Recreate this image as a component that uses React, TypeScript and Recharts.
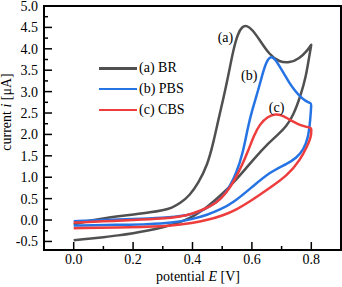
import { LineChart, Line, XAxis, YAxis, Legend, ReferenceArea, ReferenceDot } from 'recharts'

// cyclic voltammograms, potential E [V] vs current i [µA]
const brCurve = [
    { E: 0.0, i: -0.1 }, { E: 0.05, i: -0.02 }, { E: 0.1, i: 0.04 }, { E: 0.15, i: 0.09 },
    { E: 0.2, i: 0.13 }, { E: 0.26, i: 0.18 }, { E: 0.3, i: 0.23 }, { E: 0.33, i: 0.28 },
    { E: 0.36, i: 0.4 }, { E: 0.39, i: 0.57 }, { E: 0.42, i: 0.87 }, { E: 0.45, i: 1.28 },
    { E: 0.47, i: 1.8 }, { E: 0.487, i: 2.34 }, { E: 0.503, i: 2.81 }, { E: 0.52, i: 3.35 },
    { E: 0.537, i: 3.97 }, { E: 0.553, i: 4.36 }, { E: 0.567, i: 4.52 }, { E: 0.582, i: 4.55 },
    { E: 0.6, i: 4.46 }, { E: 0.626, i: 4.21 }, { E: 0.659, i: 3.86 }, { E: 0.693, i: 3.69 },
    { E: 0.726, i: 3.67 }, { E: 0.76, i: 3.77 }, { E: 0.788, i: 3.97 }, { E: 0.8, i: 4.1 },
    { E: 0.8, i: 4.1 }, { E: 0.793, i: 3.82 }, { E: 0.782, i: 3.35 }, { E: 0.765, i: 2.93 },
    { E: 0.74, i: 2.45 }, { E: 0.715, i: 2.18 }, { E: 0.69, i: 2.01 }, { E: 0.659, i: 1.82 },
    { E: 0.604, i: 1.41 }, { E: 0.548, i: 0.94 }, { E: 0.492, i: 0.55 }, { E: 0.448, i: 0.3 },
    { E: 0.4, i: 0.06 }, { E: 0.35, i: -0.07 }, { E: 0.3, i: -0.17 }, { E: 0.25, i: -0.25 },
    { E: 0.2, i: -0.31 }, { E: 0.15, i: -0.36 }, { E: 0.1, i: -0.4 }, { E: 0.05, i: -0.44 },
    { E: 0.0, i: -0.47 }, { E: 0.0, i: -0.47 },
]

const pbsCurve = [
    { E: 0.0, i: -0.03 }, { E: 0.1, i: 0.0 }, { E: 0.2, i: 0.02 }, { E: 0.3, i: 0.05 },
    { E: 0.38, i: 0.1 }, { E: 0.42, i: 0.18 }, { E: 0.448, i: 0.28 }, { E: 0.47, i: 0.37 },
    { E: 0.492, i: 0.48 }, { E: 0.51, i: 0.62 }, { E: 0.526, i: 0.79 }, { E: 0.548, i: 1.1 },
    { E: 0.57, i: 1.57 }, { E: 0.587, i: 2.19 }, { E: 0.602, i: 2.6 }, { E: 0.62, i: 3.0 },
    { E: 0.637, i: 3.45 }, { E: 0.65, i: 3.72 }, { E: 0.665, i: 3.84 }, { E: 0.68, i: 3.74 },
    { E: 0.693, i: 3.59 }, { E: 0.71, i: 3.4 }, { E: 0.726, i: 3.2 }, { E: 0.745, i: 3.02 },
    { E: 0.76, i: 2.9 }, { E: 0.78, i: 2.78 }, { E: 0.8, i: 2.72 }, { E: 0.8, i: 2.72 },
    { E: 0.797, i: 2.35 }, { E: 0.789, i: 1.9 }, { E: 0.774, i: 1.65 }, { E: 0.75, i: 1.45 },
    { E: 0.72, i: 1.32 }, { E: 0.66, i: 1.12 }, { E: 0.604, i: 0.79 }, { E: 0.537, i: 0.4 },
    { E: 0.492, i: 0.24 }, { E: 0.45, i: 0.12 }, { E: 0.4, i: 0.02 }, { E: 0.33, i: -0.07 },
    { E: 0.25, i: -0.1 }, { E: 0.15, i: -0.11 }, { E: 0.0, i: -0.13 }, { E: 0.0, i: -0.13 },
]

const cbsCurve = [
    { E: 0.0, i: -0.06 }, { E: 0.1, i: -0.03 }, { E: 0.2, i: 0.0 }, { E: 0.3, i: 0.03 },
    { E: 0.36, i: 0.08 }, { E: 0.4, i: 0.15 }, { E: 0.436, i: 0.24 }, { E: 0.481, i: 0.4 },
    { E: 0.514, i: 0.63 }, { E: 0.542, i: 0.94 }, { E: 0.565, i: 1.25 }, { E: 0.59, i: 1.66 },
    { E: 0.606, i: 1.96 }, { E: 0.626, i: 2.24 }, { E: 0.654, i: 2.42 }, { E: 0.68, i: 2.48 },
    { E: 0.7, i: 2.45 }, { E: 0.726, i: 2.35 }, { E: 0.765, i: 2.2 }, { E: 0.8, i: 2.15 },
    { E: 0.8, i: 2.15 }, { E: 0.8, i: 1.95 }, { E: 0.786, i: 1.72 }, { E: 0.763, i: 1.41 },
    { E: 0.72, i: 1.04 }, { E: 0.66, i: 0.75 }, { E: 0.604, i: 0.48 }, { E: 0.548, i: 0.24 },
    { E: 0.5, i: 0.1 }, { E: 0.45, i: 0.0 }, { E: 0.4, i: -0.07 }, { E: 0.33, i: -0.14 },
    { E: 0.2, i: -0.17 }, { E: 0.0, i: -0.19 }, { E: 0.0, i: -0.19 },
]

const seriesNames = ['(a) BR', '(b) PBS', '(c) CBS']
const seriesColors = ['#505050', '#2673e4', '#ee3d3d']
const curveTags = [
    { tag: '(a)', E: 0.511, i: 4.28 },
    { tag: '(b)', E: 0.591, i: 3.39 },
    { tag: '(c)', E: 0.683, i: 2.65 },
]

const xMajorTicks = [0, 0.2, 0.4, 0.6, 0.8]
const xMinorTicks = [0.1, 0.3, 0.5, 0.7]
const yMajorTicks = [-0.5, 0, 0.5, 1, 1.5, 2, 2.5, 3, 3.5, 4, 4.5, 5]
const yMinorTicks = [-0.25, 0.25, 0.75, 1.25, 1.75, 2.25, 2.75, 3.25, 3.75, 4.25, 4.75]

const FONT = '"Liberation Serif", "Times New Roman", serif'

function isMajor(list: number[], v: number) {
    return list.some((t) => Math.abs(t - v) < 1e-6)
}

function XTick({ x, y, payload }: any) {
    const major = isMajor(xMajorTicks, payload.value)
    return (
        <g>
            <line x1={x} x2={x} y1={y} y2={y - (major ? 8 : 4)} stroke="#000" strokeWidth={1.5} />
            {major && (
                <text x={x} y={y + 14} textAnchor="middle" fontFamily={FONT} fontSize={14} fill="#000">
                    {payload.value.toFixed(1)}
                </text>
            )}
        </g>
    )
}

function YTick({ x, y, payload }: any) {
    const major = isMajor(yMajorTicks, payload.value)
    return (
        <g>
            <line x1={x} x2={x + (major ? 8 : 4)} y1={y} y2={y} stroke="#000" strokeWidth={1.5} />
            {major && (
                <text x={x - 6} y={y + 5} textAnchor="end" fontFamily={FONT} fontSize={14} fill="#000">
                    {payload.value.toFixed(1)}
                </text>
            )}
        </g>
    )
}

function LegendBox() {
    return (
        <div style={{ fontFamily: FONT, fontSize: 14, color: '#000' }}>
            {seriesNames.map((name, k) => (
                <div key={name} style={{ display: 'flex', alignItems: 'center', height: 20.8 }}>
                    <div style={{ width: 38, height: 2.5, background: seriesColors[k], marginRight: 2 }} />
                    <span>{name}</span>
                </div>
            ))}
        </div>
    )
}

export default function App() {
    const curves = [brCurve, pbsCurve, cbsCurve]
    return (
        <div style={{ position: 'absolute', left: 0, top: 0, background: '#fff' }}>
            <LineChart width={342} height={287} margin={{ top: 6, right: 1, bottom: 0, left: 0 }}>
                <XAxis
                    type="number"
                    dataKey="E"
                    domain={[-0.1, 0.9]}
                    ticks={[...xMajorTicks, ...xMinorTicks]}
                    interval={0}
                    height={37}
                    tickSize={0}
                    tickMargin={0}
                    tickLine={false}
                    axisLine={{ stroke: '#000', strokeWidth: 2 }}
                    tick={<XTick />}
                    allowDataOverflow
                />
                <YAxis
                    type="number"
                    dataKey="i"
                    domain={[-0.7, 5]}
                    ticks={[...yMajorTicks, ...yMinorTicks]}
                    interval={0}
                    width={44}
                    tickSize={0}
                    tickMargin={0}
                    tickLine={false}
                    axisLine={{ stroke: '#000', strokeWidth: 2 }}
                    tick={<YTick />}
                    allowDataOverflow
                />
                <ReferenceArea x1={-0.1} x2={0.9} y1={-0.7} y2={5} fill="none" stroke="#000" strokeWidth={2} />
                {curves.map((data, k) => (
                    <Line
                        key={seriesNames[k]}
                        data={data}
                        dataKey="i"
                        name={seriesNames[k]}
                        type="basis"
                        stroke={seriesColors[k]}
                        strokeWidth={2.5}
                        dot={false}
                        activeDot={false}
                        isAnimationActive={false}
                    />
                ))}
                {curveTags.map((t) => (
                    <ReferenceDot
                        key={t.tag}
                        x={t.E}
                        y={t.i}
                        r={0}
                        fill="none"
                        stroke="none"
                        label={{ value: t.tag, position: 'center', fontFamily: FONT, fontSize: 14, fill: '#000' }}
                    />
                ))}
                <Legend
                    layout="vertical"
                    align="center"
                    verticalAlign="middle"
                    wrapperStyle={{ left: 99, top: 58, width: 110 }}
                    content={<LegendBox />}
                />
            </LineChart>
            <svg width={342} height={287} style={{ position: 'absolute', left: 0, top: 0, pointerEvents: 'none' }}>
                <text x={198} y={281} textAnchor="middle" fontFamily={FONT} fontSize={14} fill="#000">
                    potential <tspan fontStyle="italic">E</tspan> [V]
                </text>
                <text
                    x={11}
                    y={112}
                    textAnchor="middle"
                    transform="rotate(-90 11 112)"
                    fontFamily={FONT}
                    fontSize={14}
                    fill="#000"
                >
                    current <tspan fontStyle="italic">i</tspan> [μA]
                </text>
            </svg>
        </div>
    )
}
